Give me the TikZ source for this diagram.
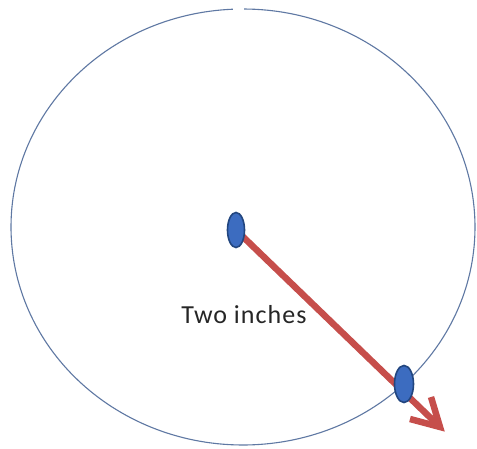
\documentclass[tikz,border=0pt]{standalone}
\usepackage{fontspec}
\setmainfont{Carlito}
\newfontfamily\lblfont[LetterSpace=4]{Carlito}
\usetikzlibrary{shapes.geometric}
\definecolor{ringblue}{HTML}{5F78A3}
\definecolor{dotfill}{HTML}{3C6CC0}
\definecolor{dotedge}{HTML}{22467F}
\definecolor{arrowred}{HTML}{C64E4B}
\tikzset{
  ring/.style={draw=ringblue, line width=1.1pt},
  dotnode/.style={ellipse, fill=dotfill, draw=dotedge, line width=1.6pt, inner sep=0pt},
  radiusline/.style={draw=arrowred, line width=6.5pt, line cap=butt, line join=miter},
  lbl/.style={font=\lblfont\fontsize{26}{30}\selectfont, text=black!85, inner sep=0pt}
}
\begin{document}
\begin{tikzpicture}[x=1pt,y=1pt]
  \useasboundingbox (0,0) rectangle (477,448);
  \fill[white] (0,0) rectangle (477,448);
  % circle with a small gap at the top
  \draw[ring] (243,221) ++(92.5:232 and 218) arc[start angle=92.5, end angle=449.75, x radius=232, y radius=218];
  % radius arrow
  \coordinate (start) at (237,217);
  \coordinate (apex) at (440,21);
  \coordinate (barbA) at (431,51);
  \coordinate (barbB) at (410,29);
  \draw[radiusline] (start) -- (apex);
  \draw[radiusline] (barbA) -- (apex) -- (barbB);
  % dots
  \node[dotnode, minimum width=17pt, minimum height=35pt] (d1) at (236,218) {};
  \node[dotnode, minimum width=19pt, minimum height=37pt] (d2) at (404,64) {};
  % label
  \node[lbl, anchor=base] (t) at (244,125) {Two inches};
\end{tikzpicture}
\end{document}
